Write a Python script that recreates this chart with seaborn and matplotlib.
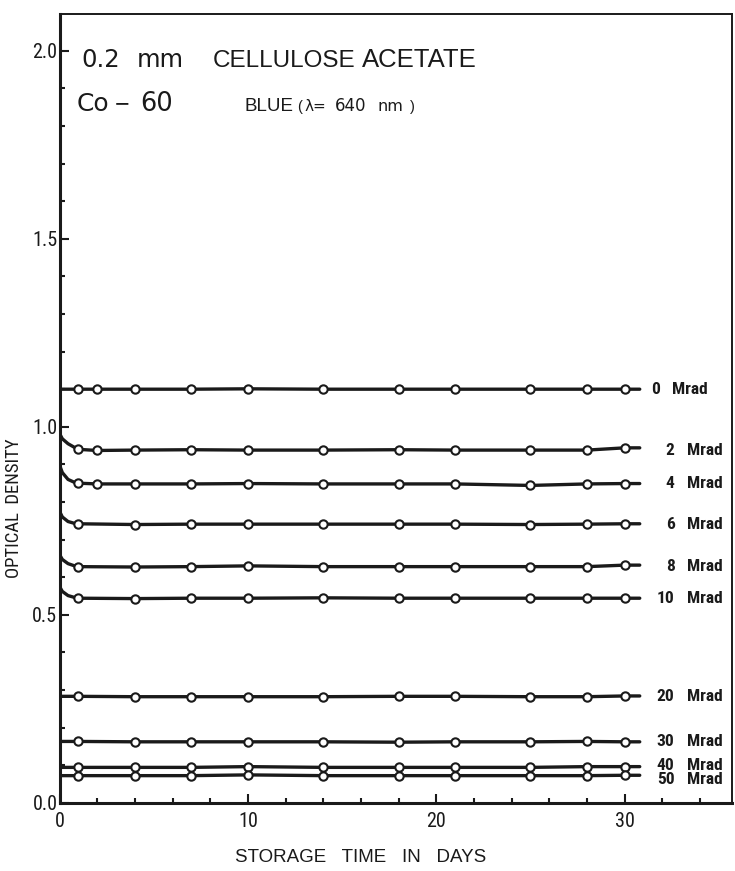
import numpy as np
import pandas as pd
import matplotlib
matplotlib.use("Agg")
import matplotlib.pyplot as plt
from matplotlib import font_manager
import seaborn as sns

# Measurement days (0, 2 and 4 Mrad films were also read on day 2)
days_a = [1, 2, 4, 7, 10, 14, 18, 21, 25, 28, 30]
days_b = [1, 4, 7, 10, 14, 18, 21, 25, 28, 30]

# Optical density at each measurement day, per dose
od_0 = [1.100, 1.100, 1.100, 1.100, 1.101, 1.100, 1.100, 1.100, 1.100, 1.100, 1.100]
od_2 = [0.940, 0.937, 0.938, 0.939, 0.938, 0.938, 0.939, 0.938, 0.938, 0.938, 0.944]
od_4 = [0.850, 0.848, 0.848, 0.848, 0.849, 0.848, 0.848, 0.848, 0.844, 0.848, 0.849]
od_6 = [0.742, 0.740, 0.741, 0.741, 0.741, 0.741, 0.741, 0.740, 0.741, 0.742]
od_8 = [0.628, 0.627, 0.628, 0.630, 0.628, 0.628, 0.628, 0.628, 0.628, 0.632]
od_10 = [0.544, 0.543, 0.544, 0.544, 0.545, 0.544, 0.544, 0.544, 0.544, 0.544]
od_20 = [0.283, 0.282, 0.282, 0.282, 0.282, 0.283, 0.283, 0.282, 0.282, 0.284]
od_30 = [0.163, 0.162, 0.162, 0.162, 0.162, 0.161, 0.162, 0.162, 0.163, 0.162]
od_40 = [0.094, 0.094, 0.094, 0.096, 0.094, 0.094, 0.094, 0.094, 0.096, 0.096]
od_50 = [0.072, 0.072, 0.072, 0.074, 0.072, 0.072, 0.072, 0.072, 0.072, 0.073]

# Post-irradiation fading during the first day (curve only, no markers)
fade_days = [0, 0.15, 0.45, 0.8]
fade_2 = [0.982, 0.968, 0.955, 0.945]
fade_4 = [0.898, 0.878, 0.860, 0.852]
fade_6 = [0.775, 0.760, 0.748, 0.743]
fade_8 = [0.660, 0.647, 0.636, 0.630]
fade_10 = [0.575, 0.562, 0.551, 0.546]

# Curves end a little after the last reading
line_end_day = 30.8

doses = ["0", "2", "4", "6", "8", "10", "20", "30", "40", "50"]
series = {
    "0": (days_a, od_0, None),
    "2": (days_a, od_2, fade_2),
    "4": (days_a, od_4, fade_4),
    "6": (days_b, od_6, fade_6),
    "8": (days_b, od_8, fade_8),
    "10": (days_b, od_10, fade_10),
    "20": (days_b, od_20, None),
    "30": (days_b, od_30, None),
    "40": (days_b, od_40, None),
    "50": (days_b, od_50, None),
}

# Dose label positions (optical density of label centre)
label_y = [1.100, 0.938, 0.848, 0.741, 0.628, 0.544, 0.282, 0.162, 0.100, 0.063]

line_rows, point_rows = [], []
for dose in doses:
    d, v, fade = series[dose]
    if fade is None:
        xs = [0] + list(d) + [line_end_day]
        ys = [v[0]] + list(v) + [v[-1]]
    else:
        xs = list(fade_days) + list(d) + [line_end_day]
        ys = list(fade) + list(v) + [v[-1]]
    for x, y in zip(xs, ys):
        line_rows.append({"dose": dose, "day": x, "od": y})
    for x, y in zip(d, v):
        point_rows.append({"dose": dose, "day": x, "od": y})
lines_df = pd.DataFrame(line_rows)
points_df = pd.DataFrame(point_rows)

sns.set_theme(style="ticks")
names = {f.name for f in font_manager.fontManager.ttflist}
narrow = next((n for n in ["Roboto Condensed", "Liberation Sans Narrow", "Roboto"]
               if n in names), "DejaVu Sans")
plt.rcParams["font.family"] = [narrow, "DejaVu Sans"]
plain = ["Liberation Sans", "DejaVu Sans"]
broad = ["DejaVu Sans"]

fig = plt.figure(figsize=(7.35, 8.71), dpi=100)
ax = fig.add_axes([0.081, 0.0784, 0.915, 0.9055])

ink = "#1a1a1a"
pal = {d: ink for d in doses}
sns.lineplot(data=lines_df, x="day", y="od", hue="dose", palette=pal,
             estimator=None, sort=True, linewidth=2.4, legend=False, ax=ax)
sns.scatterplot(data=points_df, x="day", y="od", hue="dose", palette=pal,
                marker="o", s=36, linewidth=1.5, facecolor="white",
                legend=False, ax=ax, zorder=5)
for coll in ax.collections:
    coll.set_facecolor("white")
    coll.set_edgecolor(ink)

ax.set_xlim(0, 35.7)
ax.set_ylim(0, 2.098)
ax.set_xticks([0, 10, 20, 30])
ax.set_xticks(np.arange(2, 35, 2), minor=True)
ax.set_yticks([0.0, 0.5, 1.0, 1.5, 2.0])
ax.set_yticklabels(["0.0", "0.5", "1.0", "1.5", "2.0"])
ax.set_yticks(np.arange(0.1, 2.05, 0.1), minor=True)
ax.tick_params(which="both", direction="in", color=ink, width=1.5,
               labelsize=14.5, labelcolor=ink)
ax.tick_params(which="major", length=6.5)
ax.tick_params(which="minor", length=3.5)
ax.tick_params(axis="y", pad=1.5)
ax.tick_params(axis="x", pad=7)

for side in ["left", "bottom"]:
    ax.spines[side].set_linewidth(2.2)
for side in ["top", "right"]:
    ax.spines[side].set_linewidth(1.4)
for s in ax.spines.values():
    s.set_color(ink)

ax.set_xlabel("STORAGE   TIME   IN   DAYS", fontsize=13.5, color=ink,
              family=plain)
ax.xaxis.set_label_coords(0.448, -0.0693)
ax.xaxis.label.set_va("center")
ax.set_ylabel("OPTICAL  DENSITY", fontsize=13.5, color=ink)
ax.yaxis.set_label_coords(-0.054, 0.374)

# Dose labels at the right-hand end of each curve
for dose, yv in zip(doses, label_y):
    shift = -0.8 if dose == "0" else 0.0
    ax.text(32.65 + shift, yv, dose, ha="right", va="center", fontsize=12.5,
            fontweight="bold", color=ink)
    ax.text(33.3 + shift, yv, "Mrad", ha="left", va="center", fontsize=12.5,
            fontweight="bold", color=ink)

# Heading: material, source and wavelength
heading = [
    (1.17, 1.957, "0.2", 17.5, broad), (4.1, 1.957, "mm", 17.5, broad),
    (8.12, 1.957, "CELLULOSE", 17.5, plain), (16.03, 1.957, "ACETATE", 18.5, plain),
    (0.90, 1.840, "Co", 18, broad), (2.95, 1.840, "−", 18, plain),
    (4.3, 1.840, "60", 18.5, broad),
    (9.80, 1.840, "BLUE", 13.5, plain),
    (12.6, 1.840, "(", 10.5, plain), (13.0, 1.840, "λ=", 11, broad),
    (14.6, 1.840, "640", 12, broad), (16.9, 1.840, "nm", 11.5, broad),
    (18.6, 1.840, ")", 10.5, plain),
]
for x, y, s, fs, fam in heading:
    ax.text(x, y, s, fontsize=fs, color=ink, family=fam, va="baseline")

fig.savefig("out.png", dpi=100)
